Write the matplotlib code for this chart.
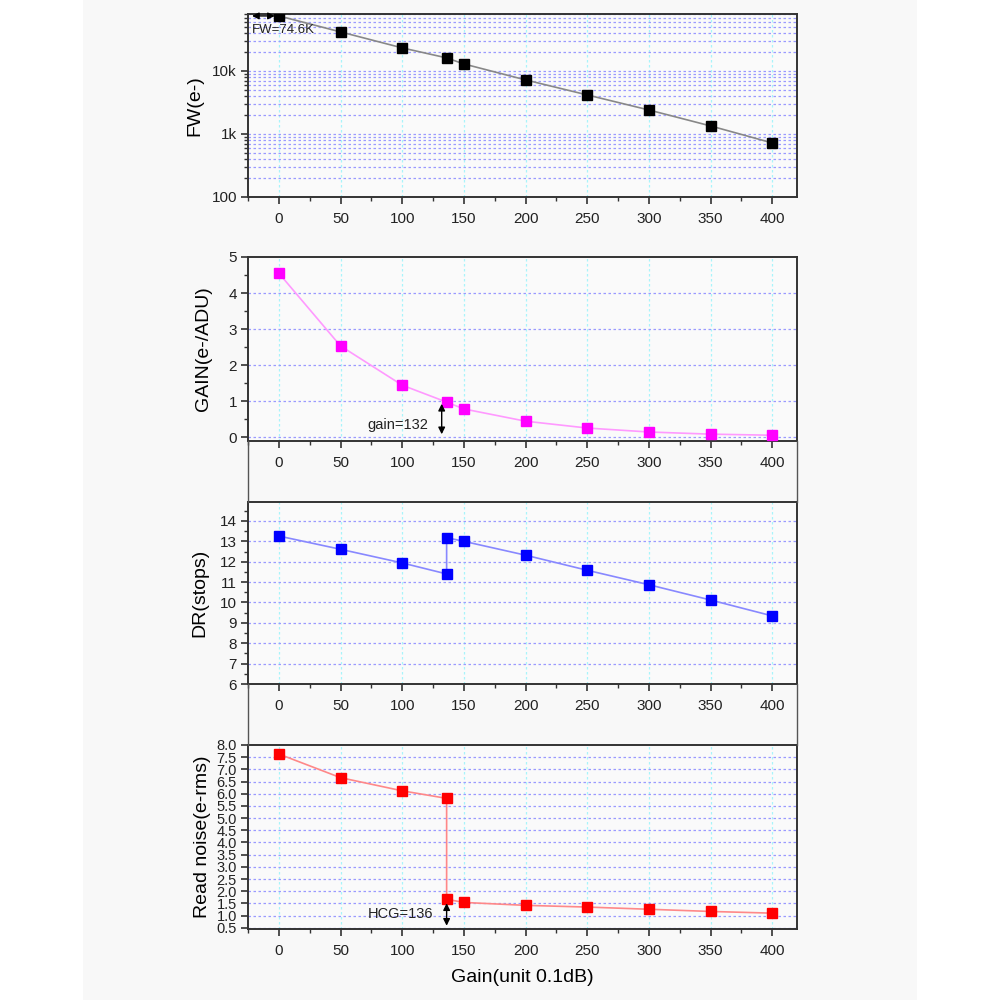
import matplotlib
matplotlib.use("Agg")
import matplotlib.pyplot as plt
from matplotlib.ticker import FixedLocator, FuncFormatter, LogLocator, MultipleLocator, NullFormatter
from matplotlib.lines import Line2D
from matplotlib.patches import Rectangle

plt.rcParams['font.family'] = ['Liberation Sans', 'DejaVu Sans']

# ---------------- data ----------------
gain_x = [0, 50, 100, 136, 150, 200, 250, 300, 350, 400]
fw_e = [74600, 41600, 23200, 16100, 12900, 7200, 4160, 2400, 1340, 720]
gain_e_adu = [4.55, 2.53, 1.44, 0.97, 0.78, 0.44, 0.25, 0.14, 0.08, 0.05]

dr_x = [0, 50, 100, 136, 136, 150, 200, 250, 300, 350, 400]
dr_stops = [13.26, 12.61, 11.94, 11.40, 13.18, 13.0, 12.32, 11.58, 10.87, 10.12, 9.34]

rn_x = [0, 50, 100, 136, 136, 150, 200, 250, 300, 350, 400]
rn_erms = [7.63, 6.66, 6.12, 5.81, 1.67, 1.54, 1.42, 1.35, 1.26, 1.17, 1.10]

x_ticks = [0, 50, 100, 150, 200, 250, 300, 350, 400]
fw_label = "FW=74.6K"
gain_label = "gain=132"
gain_mark = 132
hcg_label = "HCG=136"
hcg_mark = 136
xlabel = "Gain(unit 0.1dB)"

# ---------------- figure ----------------
fig = plt.figure(figsize=(10, 10), dpi=100)
fig.patch.set_facecolor("white")
fig.add_artist(Rectangle((0.083, 0), 0.834, 1, transform=fig.transFigure,
                         facecolor="#f8f8f8", edgecolor="none", zorder=-10))

L, W = 0.248, 0.549
positions = [
    (L, 0.803, W, 0.183),
    (L, 0.559, W, 0.184),
    (L, 0.316, W, 0.182),
    (L, 0.071, W, 0.184),
]
axes = [fig.add_axes(p) for p in positions]

hgrid = dict(color="#9a9aff", linestyle=(0, (2, 2)), linewidth=0.9)
vgrid = dict(color="#a8f4fa", linestyle=(0, (2, 2)), linewidth=0.9)
spine_col = "#333333"

for ax in axes:
    ax.set_facecolor("#fafafa")
    ax.set_xlim(-25, 420)
    ax.xaxis.set_major_locator(FixedLocator(x_ticks))
    ax.xaxis.set_minor_locator(MultipleLocator(25))
    for s in ax.spines.values():
        s.set_color(spine_col)
        s.set_linewidth(1.4)
    ax.tick_params(axis="both", which="major", direction="out", length=5, width=1.2,
                   colors=spine_col, labelsize=11, labelcolor="#222222")
    ax.tick_params(axis="both", which="minor", direction="out", length=3, width=1.0,
                   colors=spine_col)
    ax.tick_params(axis="x", pad=6)
    ax.tick_params(axis="y", pad=3)
    ax.set_axisbelow(True)
    for xv in x_ticks:
        ax.axvline(xv, zorder=0, **vgrid)

# Panel 1 : FW
ax = axes[0]
ax.set_yscale("log")
ax.set_ylim(100, 80000)
ax.yaxis.set_major_locator(FixedLocator([100, 1000, 10000]))
ax.yaxis.set_major_formatter(FuncFormatter(lambda v, p: {100: "100", 1000: "1k", 10000: "10k"}.get(int(round(v)), "")))
ax.yaxis.set_minor_locator(LogLocator(base=10, subs=range(2, 10)))
ax.yaxis.set_minor_formatter(NullFormatter())
ax.grid(True, axis="y", which="both", **hgrid)
ax.plot(gain_x, fw_e, color="#888888", lw=1.2, zorder=2)
ax.plot(gain_x, fw_e, ls="none", marker="s", ms=7.5, mfc="black", mec="black", zorder=3)
ax.annotate("", xy=(-24, fw_e[0]), xytext=(-1, fw_e[0]),
            arrowprops=dict(arrowstyle="<|-|>", color="black", lw=1, mutation_scale=10),
            zorder=4)
ax.text(-22, 44000, fw_label, fontsize=9.5, color="#222222", va="center", ha="left")
ax.set_ylabel("FW(e-)", fontsize=14, labelpad=6)

# Panel 2 : GAIN
ax = axes[1]
ax.set_ylim(-0.11, 5)
ax.yaxis.set_major_locator(MultipleLocator(1))
ax.yaxis.set_minor_locator(MultipleLocator(0.5))
for yv in [0, 1, 2, 3, 4]:
    ax.axhline(yv, zorder=0, **hgrid)
ax.plot(gain_x, gain_e_adu, color="#ff99ff", lw=1.2, zorder=2)
ax.plot(gain_x, gain_e_adu, ls="none", marker="s", ms=7, mfc="#ff00ff", mec="#ff00ff", zorder=3)
ax.annotate("", xy=(gain_mark, 0), xytext=(gain_mark, 1),
            arrowprops=dict(arrowstyle="<|-|>", color="black", lw=1, mutation_scale=10))
ax.text(121, 0.33, gain_label, fontsize=10.5, color="#222222", va="center", ha="right")
ax.set_ylabel("GAIN(e-/ADU)", fontsize=14, labelpad=12)

# Panel 3 : DR
ax = axes[2]
ax.set_ylim(6, 14.93)
ax.yaxis.set_major_locator(MultipleLocator(1))
ax.yaxis.set_minor_locator(MultipleLocator(0.5))
for yv in range(7, 15):
    ax.axhline(yv, zorder=0, **hgrid)
ax.plot(dr_x, dr_stops, color="#8888ff", lw=1.2, zorder=2)
ax.plot(dr_x, dr_stops, ls="none", marker="s", ms=7, mfc="#0000ff", mec="#0000ff", zorder=3)
ax.set_ylabel("DR(stops)", fontsize=14, labelpad=8)

# Panel 4 : Read noise
ax = axes[3]
ax.set_ylim(0.45, 8.0)
ax.yaxis.set_major_locator(MultipleLocator(0.5))
ax.yaxis.set_major_formatter(FuncFormatter(lambda v, p: f"{v:.1f}"))
ax.tick_params(axis="y", labelsize=10.5)
for i in range(1, 16):
    ax.axhline(0.5 * i, zorder=0, **hgrid)
ax.plot(rn_x, rn_erms, color="#ff8888", lw=1.2, zorder=2)
ax.plot(rn_x, rn_erms, ls="none", marker="s", ms=7.5, mfc="#ff0000", mec="#ff0000", zorder=3)
ax.annotate("", xy=(hcg_mark, 0.47), xytext=(hcg_mark, 1.62),
            arrowprops=dict(arrowstyle="<|-|>", color="black", lw=1, mutation_scale=10))
ax.text(125, 1.06, hcg_label, fontsize=10.5, color="#222222", va="center", ha="right")
ax.set_ylabel("Read noise(e-rms)", fontsize=14, labelpad=4)
ax.set_xlabel(xlabel, fontsize=14, labelpad=8)

# connector lines between stacked panels (Origin-style)
for (top_ax, bot_ax) in [(axes[1], axes[2]), (axes[2], axes[3])]:
    yb = top_ax.get_position().y0
    yt = bot_ax.get_position().y1
    for xx in (L, L + W):
        fig.add_artist(Line2D([xx, xx], [yb, yt], transform=fig.transFigure,
                              color="#555555", lw=1.0))

fig.savefig("out.png", dpi=100, facecolor=fig.get_facecolor())
